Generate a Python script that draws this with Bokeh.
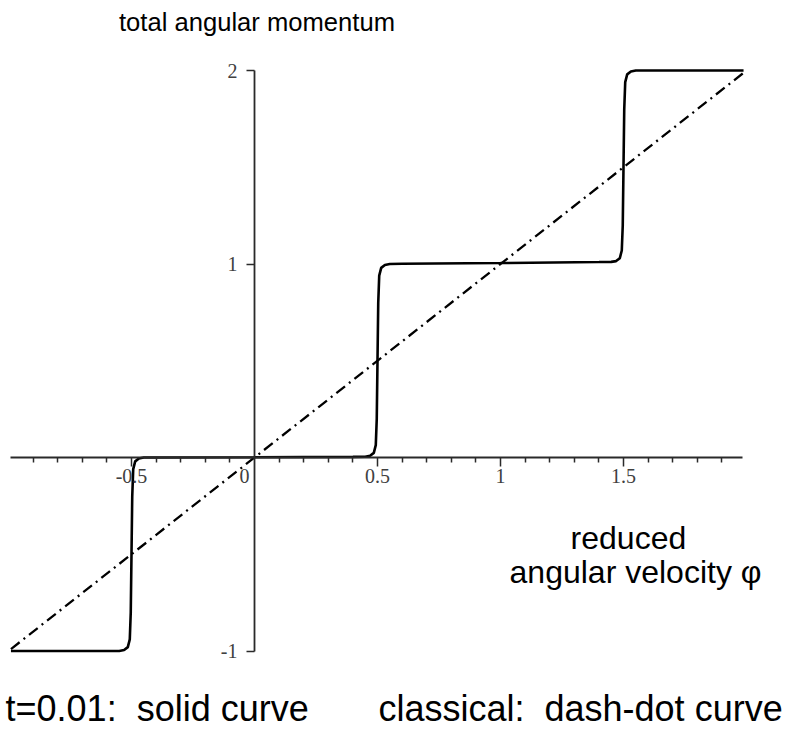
from bokeh.plotting import figure
from bokeh.models import Range1d, LinearAxis, FixedTicker, Label
from bokeh.embed import file_html
from bokeh.resources import INLINE

# ---- data ----
# quantum curve (t = 0.01), solid
phi_q = [-0.99, -0.60, -0.55, -0.53, -0.515, -0.507, -0.503, -0.50, -0.497, -0.493, -0.485, -0.47, -0.45,
         -0.40, 0.0, 0.40, 0.45, 0.47, 0.485, 0.493, 0.497, 0.50, 0.503, 0.507, 0.515, 0.53, 0.55,
         0.60, 1.0, 1.40, 1.45, 1.47, 1.485, 1.493, 1.497, 1.50, 1.503, 1.507, 1.515, 1.53, 1.55,
         1.60, 1.988]
J_q = [-1.0, -1.0, -1.0, -0.995, -0.98, -0.94, -0.8, -0.5, -0.2, -0.06, -0.02, -0.005, 0.0,
       0.0, 0.001, 0.003, 0.004, 0.009, 0.024, 0.064, 0.2, 0.5, 0.8, 0.94, 0.98, 0.995, 1.0,
       1.001, 1.005, 1.01, 1.011, 1.015, 1.03, 1.07, 1.2, 1.5, 1.8, 1.94, 1.98, 1.995, 2.0,
       2.0, 2.0]

# classical curve, dash-dot
phi_c = [-0.99, 1.988]
J_c = [-0.99, 1.988]

# axis ticks and labels
x_major = [-0.5, 0.5, 1.0, 1.5]
x_minor = [-0.9, -0.8, -0.7, -0.6, -0.4, -0.3, -0.2, -0.1, 0.1, 0.2, 0.3, 0.4,
           0.6, 0.7, 0.8, 0.9, 1.1, 1.2, 1.3, 1.4, 1.6, 1.7, 1.8, 1.9]
x_labels = {-0.5: "-0.5", 0.5: "0.5", 1.0: "1", 1.5: "1.5"}
y_major = [-1.0, 1.0, 2.0]
y_labels = {-1.0: "-1", 1.0: "1", 2.0: "2"}

title_text = "total angular momentum"
xlabel_1 = "reduced"
xlabel_2 = "angular velocity \u03c6"
legend_left = "t=0.01:\u00a0 solid curve"
legend_right = "classical:\u00a0 dash-dot curve"

# ---- figure ----
p = figure(width=791, height=731, output_backend="svg", toolbar_location=None,
           x_range=Range1d(-1.03252, 2.18293), y_range=Range1d(-1.41602, 2.36176),
           x_axis_location=None, y_axis_location=None, min_border=0)
p.outline_line_color = None
p.grid.visible = False
p.background_fill_color = "white"
p.border_fill_color = "white"

axis_color = "#2a2a2a"
label_color = "#404040"
tick_font = "Liberation Serif"

xaxis = LinearAxis(fixed_location=0, bounds=(-0.99, 1.985),
                   ticker=FixedTicker(ticks=x_major, minor_ticks=x_minor),
                   major_label_overrides=x_labels,
                   axis_line_color=axis_color, axis_line_width=1.8,
                   major_tick_line_color=axis_color, major_tick_line_width=1.5,
                   minor_tick_line_color=axis_color, minor_tick_line_width=1.5,
                   major_tick_in=0, major_tick_out=9, minor_tick_in=0, minor_tick_out=5,
                   major_label_standoff=2,
                   major_label_text_font=tick_font, major_label_text_font_size="20px",
                   major_label_text_color=label_color)
p.add_layout(xaxis, "below")

yaxis = LinearAxis(fixed_location=0, bounds=(-1.0, 2.0),
                   ticker=FixedTicker(ticks=y_major, minor_ticks=[]),
                   major_label_overrides=y_labels,
                   axis_line_color=axis_color, axis_line_width=1.8,
                   major_tick_line_color=axis_color, major_tick_line_width=1.5,
                   major_tick_in=0, major_tick_out=8, minor_tick_out=0,
                   major_label_standoff=9,
                   major_label_text_font=tick_font, major_label_text_font_size="20px",
                   major_label_text_color=label_color)
p.add_layout(yaxis, "left")

# origin label "0"
p.add_layout(Label(x=-0.041, y=-0.062, text="0", text_align="center", text_baseline="top",
                   text_font=tick_font, text_font_size="20px", text_color=label_color))

# curves
p.line(phi_c, J_c, line_color="black", line_width=2.3, line_dash="11 5 2 5")
p.line(phi_q, J_q, line_color="black", line_width=2.6)

# texts
sans = "Liberation Sans"
p.add_layout(Label(x=0.01, y=2.25, text=title_text, text_align="center",
                   text_baseline="alphabetic", text_font=sans, text_font_size="25.6px",
                   text_color="black"))
p.add_layout(Label(x=1.52, y=-0.418, text=xlabel_1, text_align="center",
                   text_baseline="alphabetic", text_font=sans, text_font_size="32px",
                   text_color="black"))
p.add_layout(Label(x=1.549, y=-0.594, text=xlabel_2, text_align="center",
                   text_baseline="alphabetic", text_font=sans, text_font_size="32px",
                   text_color="black"))
p.add_layout(Label(x=-1.012, y=-1.295, text=legend_left, text_align="left",
                   text_baseline="alphabetic", text_font=sans, text_font_size="36px",
                   text_color="black"))
p.add_layout(Label(x=0.504, y=-1.295, text=legend_right, text_align="left",
                   text_baseline="alphabetic", text_font=sans, text_font_size="36px",
                   text_color="black"))

open("out.html", "w").write(file_html(p, INLINE))
